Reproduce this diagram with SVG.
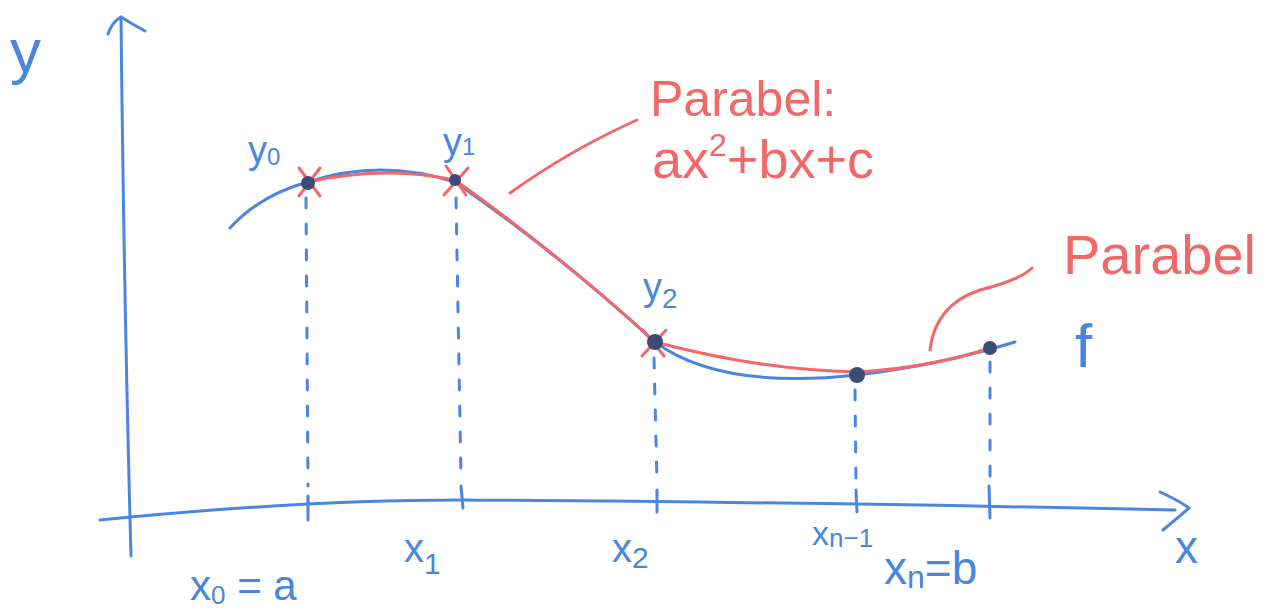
<svg xmlns="http://www.w3.org/2000/svg" width="1276" height="616" viewBox="0 0 1276 616">
<style>
.b{fill:none;stroke:#4a86e0;stroke-width:3;stroke-linecap:round;stroke-linejoin:round}
.r{fill:none;stroke:#f06868;stroke-width:3;stroke-linecap:round;stroke-linejoin:round}
.d{fill:none;stroke:#4a86e0;stroke-width:3;stroke-linecap:round;stroke-dasharray:10 16}
.bt{fill:#4a86e0;font-family:"Liberation Sans",sans-serif}
.rt{fill:#f06868;font-family:"Liberation Sans",sans-serif}
.pt{fill:#3c4a78}
</style>
<rect width="1276" height="616" fill="#fff"/>
<g id="axes">
<path class="b" d="M131 556 Q124 300 121 17"/>
<path class="b" d="M108 34 Q112 22 121 17 Q132 24 145 31"/>
<path class="b" d="M100 520 Q300 500 460 500 Q800 502 1175 510"/>
<path class="b" d="M1160 492 Q1178 500 1189 508 Q1175 520 1163 530"/>
<path class="b" d="M308 496 L308 520 M461 486 L463 508 M657 490 L657 512 M856 490 L857 512 M989 486 L990 518"/>
<text class="bt" x="10" y="72" font-size="62">y</text>
<text class="bt" x="1175" y="563" font-size="46">x</text>
</g>
<g id="curve-f">
<path class="b" d="M230 228 Q260 195 308 182 Q380 158 455 182 Q560 255 655 342 Q720 390 857 375 Q940 365 1015 342"/>
<text class="bt" x="1075" y="367" font-size="62">f</text>
</g>
<g id="parabola1">
<path class="r" stroke-width="4" d="M308 182 Q385 165 455 180 Q560 255 655 342"/>
<path class="r" d="M299 168 L320 196 M299 196 L320 168"/>
<path class="r" d="M446 166 L466 195 M444 195 L468 168"/>
<path class="r" d="M643 330 L664 356 M642 356 L666 330"/>
</g>
<g id="parabola2">
<path class="r" stroke-width="5" d="M655 342 Q760 370 857 372 Q930 368 990 348"/>
</g>
<g id="points">
<circle class="pt" cx="308" cy="183" r="7"/>
<circle class="pt" cx="455" cy="180" r="6"/>
<circle class="pt" cx="655" cy="342" r="8"/>
<circle class="pt" cx="857" cy="375" r="8"/>
<circle class="pt" cx="990" cy="348" r="7"/>
</g>
<g id="dashes">
<path class="d" d="M306 198 L308 486"/>
<path class="d" d="M456 198 L461 478"/>
<path class="d" d="M654 358 L657 482"/>
<path class="d" d="M855 390 L856 482"/>
<path class="d" d="M990 362 L990 480"/>
</g>
<g id="labels">
<text class="bt" x="248" y="163" font-size="38">y<tspan font-size="24" dy="2">0</tspan></text>
<text class="bt" x="443" y="155" font-size="38">y<tspan font-size="24" dy="0">1</tspan></text>
<text class="bt" x="643" y="300" font-size="38">y<tspan font-size="28" dy="8">2</tspan></text>
<text class="bt" x="404" y="562" font-size="40">x<tspan font-size="30" dy="12">1</tspan></text>
<text class="bt" x="612" y="562" font-size="40">x<tspan font-size="30" dy="6">2</tspan></text>
<text class="bt" x="190" y="600" font-size="42">x<tspan font-size="26" dy="4">0</tspan><tspan dy="-4"> = a</tspan></text>
<text class="bt" x="812" y="545" font-size="34">x<tspan font-size="26" dy="2">n−1</tspan></text>
<text class="bt" x="884" y="584" font-size="46">x<tspan font-size="32" dy="4">n</tspan><tspan dy="-4">=b</tspan></text>
</g>
<g id="annotations">
<path class="r" d="M510 193 Q570 150 637 120"/>
<text class="rt" x="650" y="116" font-size="50">Parabel:</text>
<text class="rt" x="652" y="178" font-size="54">ax<tspan font-size="32" dy="-22">2</tspan><tspan dy="22">+bx+c</tspan></text>
<path class="r" d="M930 350 Q935 305 980 290 Q1020 280 1032 268"/>
<text class="rt" x="1063" y="274" font-size="56">Parabel</text>
</g>
</svg>
